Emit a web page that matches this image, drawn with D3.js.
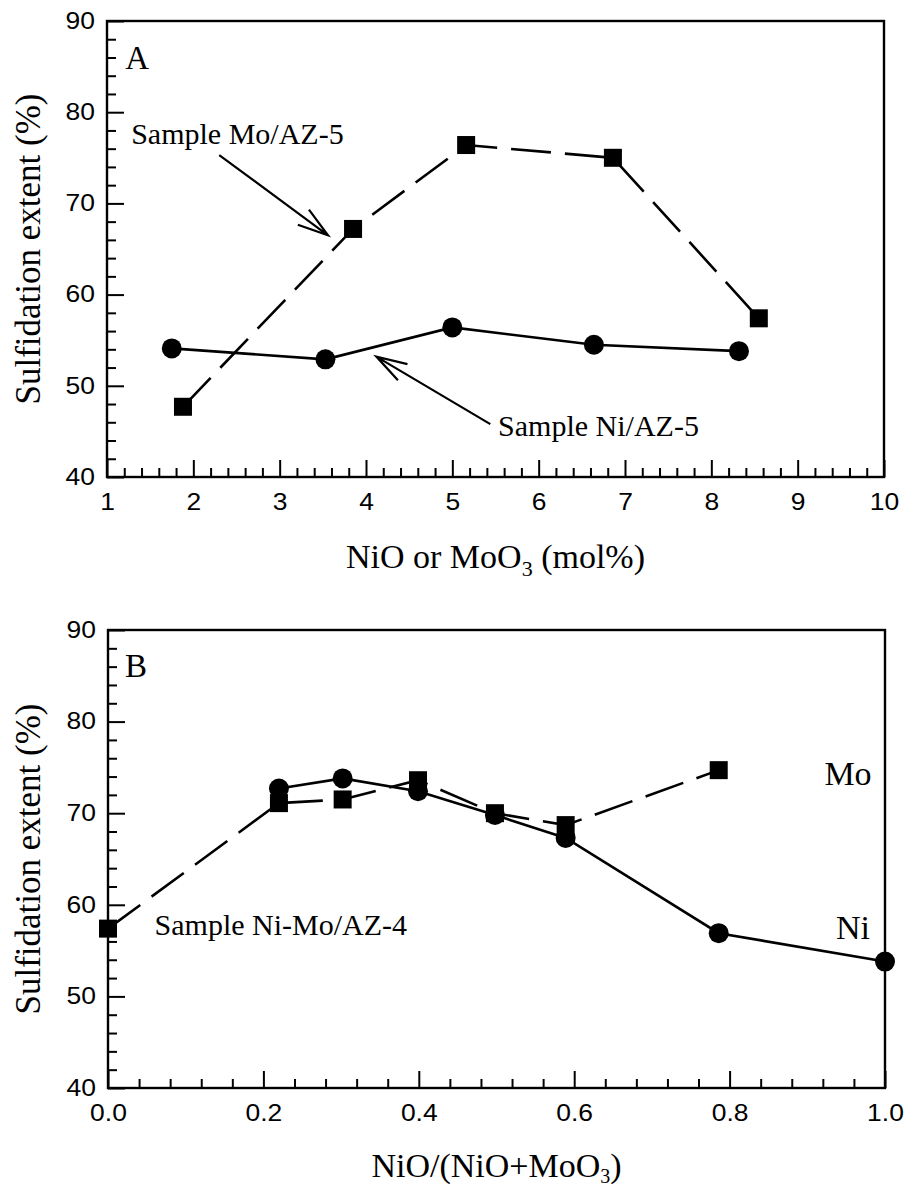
<!DOCTYPE html>
<html>
<head>
<meta charset="utf-8">
<script src="https://cdn.jsdelivr.net/npm/d3@7"></script>
<style>
  body { margin: 0; background: #fff; }
  svg { display: block; }
</style>
</head>
<body>
<svg id="chart" width="905" height="1186"></svg>
<script>
// ---- Panel A: single-oxide samples vs. loading ----
const loadingNiA = [1.75, 3.53, 5.0, 6.64, 8.32];
const sulfNiA    = [54.1, 52.9, 56.4, 54.5, 53.8];
const loadingMoA = [1.88, 3.85, 5.16, 6.86, 8.55];
const sulfMoA    = [47.7, 67.2, 76.4, 75.0, 57.4];

// ---- Panel B: Ni-Mo/AZ-4 vs. NiO/(NiO+MoO3) ----
const ratioMoB = [0.0, 0.22, 0.302, 0.399, 0.498, 0.589, 0.786];
const sulfMoB  = [57.4, 71.1, 71.5, 73.6, 70.0, 68.7, 74.7];
const ratioNiB = [0.22, 0.302, 0.399, 0.498, 0.589, 0.786, 1.0];
const sulfNiB  = [72.7, 73.8, 72.4, 69.8, 67.3, 56.9, 53.8];

// ---- Tick values ----
const yTicks  = [40, 50, 60, 70, 80, 90];
const yMinor  = [42, 44, 46, 48, 52, 54, 56, 58, 62, 64, 66, 68, 72, 74, 76, 78, 82, 84, 86, 88];
const xTicksA = [1, 2, 3, 4, 5, 6, 7, 8, 9, 10];
const xTicksB = [0.0, 0.2, 0.4, 0.6, 0.8, 1.0];

// ---- Annotations (data coordinates) ----
const arrowsA = [
  { from: [2.30, 75.3], to: [3.56, 66.5] },
  { from: [5.44, 45.8], to: [4.12, 53.2] }
];
const labelsA = [
  { x: 1.21, y: 84.7, text: "A", size: 33 },
  { x: 1.28, y: 76.5, text: "Sample Mo/AZ-5", size: 30 },
  { x: 5.53, y: 44.5, text: "Sample Ni/AZ-5", size: 30 }
];
const labelsB = [
  { x: 0.022, y: 84.9, text: "B", size: 33 },
  { x: 0.922, y: 73.1, text: "Mo", size: 34 },
  { x: 0.937, y: 56.3, text: "Ni", size: 34 },
  { x: 0.060, y: 56.7, text: "Sample Ni-Mo/AZ-4", size: 30 }
];

const svg = d3.select("#chart");
const SERIF = "'Liberation Serif', 'Times New Roman', serif";
const SANS = "'Liberation Sans', Arial, Helvetica, sans-serif";
const STRETCH = 1.15;

function panel(opt) {
  const { left, top, width, height, xDomain, xTicks, xMinorStep, xFmt } = opt;
  const g = svg.append("g").attr("transform", `translate(${left},${top})`);
  const x = d3.scaleLinear().domain(xDomain).range([0, width]);
  const y = d3.scaleLinear().domain([40, 90]).range([height, 0]);

  // minor ticks
  const xMinor = d3.range(xDomain[0], xDomain[1] + 1e-9, xMinorStep)
    .filter(v => !xTicks.some(t => Math.abs(t - v) < 1e-6));
  g.append("g").attr("transform", `translate(0,${height})`)
    .call(d3.axisBottom(x).tickValues(xMinor).tickSize(-9).tickSizeOuter(0).tickFormat(""))
    .call(s => s.select(".domain").remove());
  g.append("g")
    .call(d3.axisLeft(y).tickValues(yMinor).tickSize(-9).tickSizeOuter(0).tickFormat(""))
    .call(s => s.select(".domain").remove());

  // major ticks with labels
  const ax = g.append("g").attr("transform", `translate(0,${height})`)
    .call(d3.axisBottom(x).tickValues(xTicks).tickSize(-17).tickSizeOuter(0).tickPadding(17).tickFormat(xFmt))
    .call(s => s.select(".domain").remove());
  const ay = g.append("g")
    .call(d3.axisLeft(y).tickValues(yTicks).tickSize(-17).tickSizeOuter(0).tickPadding(12).tickFormat(d3.format("d")))
    .call(s => s.select(".domain").remove());
  [ax, ay].forEach(a => {
    a.selectAll("text")
      .attr("font-family", SANS).attr("font-size", 23).attr("fill", "#000")
      .attr("x", function () { return (+d3.select(this).attr("x") || 0) / STRETCH; })
      .attr("transform", `scale(${STRETCH},1)`);
  });
  g.selectAll(".tick line").attr("stroke", "#000").attr("stroke-width", 2);

  // frame
  g.append("rect").attr("width", width).attr("height", height)
    .attr("fill", "none").attr("stroke", "#000").attr("stroke-width", 2.4);

  // y title
  g.append("text")
    .attr("transform", `translate(${40 - left},${height / 2}) rotate(-90)`)
    .attr("text-anchor", "middle")
    .attr("font-family", SERIF).attr("font-size", 35)
    .text("Sulfidation extent (%)");

  return { g, x, y };
}

function series(p, xs, ys, marker, dashed) {
  const pts = xs.map((v, i) => [v, ys[i]]);
  const line = d3.line().x(d => p.x(d[0])).y(d => p.y(d[1]));
  p.g.append("path").datum(pts)
    .attr("d", line).attr("fill", "none").attr("stroke", "#000")
    .attr("stroke-width", 2.6)
    .attr("stroke-dasharray", dashed ? "40,14" : null);
  if (marker === "circle") {
    p.g.selectAll(null).data(pts).enter().append("circle")
      .attr("cx", d => p.x(d[0])).attr("cy", d => p.y(d[1])).attr("r", 10)
      .attr("fill", "#000");
  } else {
    const s = 18;
    p.g.selectAll(null).data(pts).enter().append("rect")
      .attr("x", d => p.x(d[0]) - s / 2).attr("y", d => p.y(d[1]) - s / 2)
      .attr("width", s).attr("height", s).attr("fill", "#000");
  }
}

function labels(p, list) {
  p.g.selectAll(null).data(list).enter().append("text")
    .attr("x", d => p.x(d.x)).attr("y", d => p.y(d.y))
    .attr("font-family", SERIF).attr("font-size", d => d.size)
    .text(d => d.text);
}

function arrow(p, a) {
  const x0 = p.x(a.from[0]), y0 = p.y(a.from[1]);
  const x1 = p.x(a.to[0]), y1 = p.y(a.to[1]);
  const ang = Math.atan2(y0 - y1, x0 - x1);
  const len = 32, spread = 17 * Math.PI / 180;
  const b1 = [x1 + len * Math.cos(ang + spread), y1 + len * Math.sin(ang + spread)];
  const b2 = [x1 + len * Math.cos(ang - spread), y1 + len * Math.sin(ang - spread)];
  p.g.append("path")
    .attr("d", `M${x0},${y0}L${x1},${y1}M${b1[0]},${b1[1]}L${x1},${y1}L${b2[0]},${b2[1]}`)
    .attr("fill", "none").attr("stroke", "#000").attr("stroke-width", 2.2);
}

// ---- Panel A ----
const pA = panel({
  left: 107, top: 21, width: 777, height: 456,
  xDomain: [1, 10], xTicks: xTicksA, xMinorStep: 0.2, xFmt: d3.format("d")
});
series(pA, loadingMoA, sulfMoA, "square", true);
series(pA, loadingNiA, sulfNiA, "circle", false);
arrowsA.forEach(a => arrow(pA, a));
labels(pA, labelsA);
const tA = pA.g.append("text")
  .attr("x", pA.x(5.5)).attr("y", 456 + 91)
  .attr("text-anchor", "middle")
  .attr("font-family", SERIF).attr("font-size", 34);
tA.append("tspan").text("NiO or MoO");
tA.append("tspan").attr("font-size", 22).attr("dy", 8).text("3");
tA.append("tspan").attr("dy", -8).text(" (mol%)");

// ---- Panel B ----
const pB = panel({
  left: 108, top: 630, width: 777, height: 458,
  xDomain: [0, 1], xTicks: xTicksB, xMinorStep: 0.04, xFmt: d3.format(".1f")
});
series(pB, ratioMoB, sulfMoB, "square", true);
series(pB, ratioNiB, sulfNiB, "circle", false);
labels(pB, labelsB);
const tB = pB.g.append("text")
  .attr("x", pB.x(0.5)).attr("y", 458 + 89)
  .attr("text-anchor", "middle")
  .attr("font-family", SERIF).attr("font-size", 34);
tB.append("tspan").text("NiO/(NiO+MoO");
tB.append("tspan").attr("font-size", 20).attr("dy", 6).text("3");
tB.append("tspan").attr("dy", -6).text(")");
</script>
</body>
</html>
